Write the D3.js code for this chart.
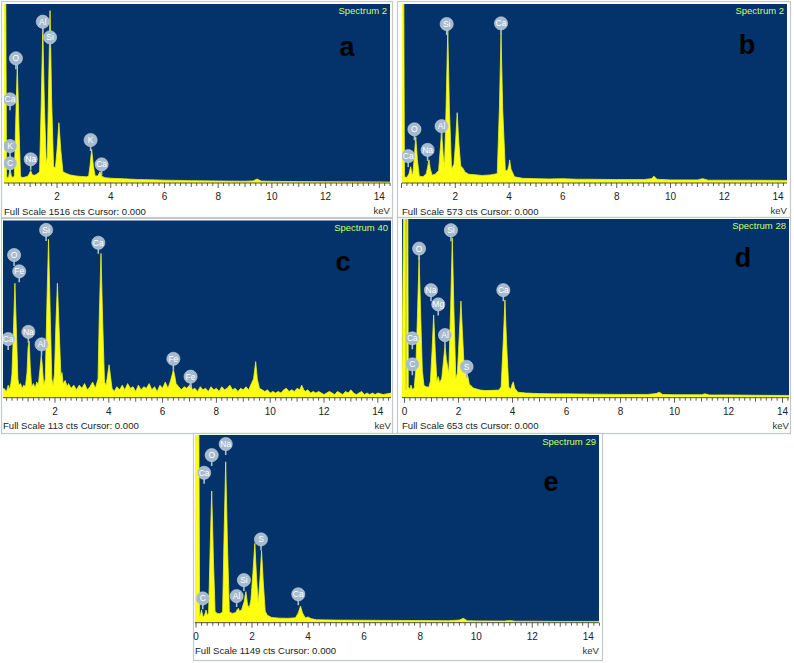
<!DOCTYPE html>
<html><head><meta charset="utf-8">
<script src="https://cdn.jsdelivr.net/npm/d3@7"></script>
<style>body{margin:0;background:#fff}svg{display:block;font-family:"Liberation Sans",Arial,sans-serif}</style>
</head><body><svg id="chart" width="794" height="663"></svg>
<script>
// ---------- DATA ----------
const panelLetters = ["a", "b", "c", "d", "e"];
const spectrumTitles = ["Spectrum 2", "Spectrum 2", "Spectrum 40", "Spectrum 28", "Spectrum 29"];
const fullScaleCounts = [1516, 573, 113, 653, 1149];
const keVTickLabels = [0, 2, 4, 6, 8, 10, 12, 14];

// spectra: [energy keV, counts]
const spectrumA = [[0,1700],[0.09,1700],[0.12,60],[0.16,40],[0.2,50],[0.25,125],[0.3,60],[0.36,45],[0.41,60],[0.46,500],[0.52,1000],[0.58,500],[0.64,60],[0.7,45],[0.8,50],[0.9,55],[0.96,75],[1.02,104],[1.08,70],[1.15,65],[1.25,75],[1.35,95],[1.41,650],[1.47,1310],[1.53,650],[1.6,170],[1.64,220],[1.68,720],[1.74,1460],[1.8,700],[1.87,140],[1.94,130],[2.0,280],[2.07,510],[2.14,280],[2.22,95],[2.35,80],[2.5,68],[2.7,60],[2.9,55],[3.1,52],[3.18,60],[3.23,150],[3.29,285],[3.35,150],[3.42,60],[3.52,60],[3.6,96],[3.67,55],[3.8,45],[4.0,40],[4.5,35],[5,30],[5.5,27],[6,24],[7,20],[8,17],[9,15],[9.3,18],[9.45,34],[9.6,16],[10,14],[11,12],[12,11],[13,10],[14.5,8]];
const spectrumB = [[0,700],[0.08,700],[0.11,20],[0.2,18],[0.28,30],[0.34,52],[0.4,25],[0.42,30],[0.47,75],[0.53,148],[0.59,75],[0.66,22],[0.8,20],[0.92,30],[0.97,50],[1.02,74],[1.07,45],[1.14,25],[1.25,28],[1.38,40],[1.43,95],[1.49,164],[1.55,90],[1.6,55],[1.66,250],[1.72,490],[1.78,240],[1.86,45],[1.95,60],[2.01,130],[2.07,225],[2.13,130],[2.2,55],[2.3,45],[2.36,35],[2.5,28],[2.8,26],[3.0,24],[3.3,26],[3.56,30],[3.64,240],[3.7,480],[3.76,240],[3.86,40],[3.94,40],[3.99,55],[4.02,74],[4.07,45],[4.2,20],[4.5,15],[5,14],[5.5,13],[6,14],[6.5,12],[7,12],[8,11],[9,11],[9.3,14],[9.38,22],[9.5,12],[10,10],[11,10],[11.2,14],[11.4,9],[12,9],[13,9],[14.5,8]];
const spectrumC = [[-0.1,3],[0.1,6],[0.2,4],[0.26,8],[0.3,5],[0.36,9],[0.4,15],[0.45,40],[0.51,73],[0.57,40],[0.62,12],[0.66,8],[0.72,9],[0.78,6],[0.84,8],[0.9,7],[0.96,16],[1.0,32],[1.04,36],[1.08,20],[1.13,7],[1.2,9],[1.26,6],[1.32,10],[1.38,8],[1.44,18],[1.49,27],[1.53,20],[1.58,8],[1.64,12],[1.7,60],[1.76,101],[1.82,55],[1.88,12],[1.93,8],[1.98,15],[2.03,45],[2.09,73],[2.15,45],[2.22,14],[2.26,16],[2.3,9],[2.38,11],[2.45,7],[2.5,9],[2.6,6],[2.7,8],[2.8,5],[2.9,8],[3.0,6],[3.1,9],[3.2,5],[3.3,7],[3.4,10],[3.5,6],[3.6,12],[3.65,55],[3.71,92],[3.77,50],[3.84,10],[3.9,8],[3.96,15],[4.01,21],[4.06,14],[4.12,6],[4.2,4],[4.3,7],[4.4,5],[4.5,8],[4.6,5],[4.7,9],[4.8,6],[4.9,7],[5.0,4],[5.1,8],[5.2,5],[5.3,7],[5.4,6],[5.5,9],[5.6,5],[5.7,7],[5.8,4],[5.9,8],[6.0,6],[6.1,10],[6.2,6],[6.3,11],[6.36,15],[6.4,18],[6.45,14],[6.5,9],[6.6,7],[6.7,5],[6.8,7],[6.9,6],[7.0,8],[7.05,9],[7.1,5],[7.2,6],[7.3,4],[7.4,7],[7.5,5],[7.6,6],[7.7,4],[7.8,7],[7.9,5],[8.0,6],[8.1,4],[8.2,7],[8.3,5],[8.4,6],[8.5,8],[8.6,5],[8.7,6],[8.8,4],[8.9,6],[9.0,5],[9.1,7],[9.2,5],[9.3,9],[9.38,12],[9.46,23],[9.52,12],[9.6,6],[9.7,5],[9.8,4],[9.9,5],[10.0,3],[10.1,4],[10.2,3],[10.3,4],[10.4,3],[10.5,5],[10.6,6],[10.7,4],[10.8,5],[10.9,4],[11.0,6],[11.1,5],[11.17,8],[11.25,5],[11.3,4],[11.4,5],[11.5,3],[11.6,4],[11.7,3],[11.8,4],[11.9,3],[12.0,2],[12.1,3],[12.2,4],[12.3,3],[12.4,2],[12.5,4],[12.6,3],[12.7,2],[12.8,4],[12.9,3],[13.0,5],[13.1,3],[13.2,2],[13.3,3],[13.4,4],[13.5,2],[13.6,3],[13.7,2],[13.8,3],[13.9,2],[14.0,3],[14.2,2],[14.5,3]];
const spectrumD = [[-0.1,30],[-0.02,800],[0.03,800],[0.05,30],[0.07,30],[0.08,800],[0.12,800],[0.14,40],[0.19,30],[0.24,46],[0.29,30],[0.36,35],[0.42,110],[0.48,300],[0.54,515],[0.6,300],[0.66,100],[0.72,45],[0.8,40],[0.9,38],[0.96,60],[1.02,170],[1.08,302],[1.14,170],[1.2,60],[1.25,77],[1.3,55],[1.38,70],[1.45,140],[1.5,192],[1.55,140],[1.64,90],[1.71,330],[1.77,584],[1.83,320],[1.9,70],[1.96,90],[2.03,230],[2.09,353],[2.15,230],[2.21,110],[2.28,95],[2.34,80],[2.4,50],[2.55,35],[2.8,28],[3.0,26],[3.3,27],[3.5,28],[3.58,40],[3.66,210],[3.72,357],[3.78,200],[3.86,40],[3.93,30],[3.99,50],[4.03,58],[4.08,35],[4.2,20],[4.5,17],[5,15],[5.5,14],[6,14],[7,13],[8,12],[9,12],[9.32,15],[9.44,20],[9.56,12],[10,11],[11,11],[11.13,14],[11.3,10],[12,10],[13,9],[14.5,8]];
const spectrumE = [[-0.05,1300],[0.1,1300],[0.13,40],[0.16,50],[0.2,78],[0.24,40],[0.28,37],[0.32,55],[0.36,78],[0.4,45],[0.45,60],[0.5,420],[0.56,806],[0.62,400],[0.68,70],[0.75,57],[0.85,55],[0.95,65],[1.0,520],[1.06,985],[1.12,500],[1.19,65],[1.3,57],[1.42,62],[1.47,80],[1.51,88],[1.56,70],[1.63,80],[1.72,130],[1.78,190],[1.84,110],[1.9,90],[1.96,140],[2.03,300],[2.1,486],[2.16,280],[2.22,120],[2.28,260],[2.34,441],[2.4,250],[2.47,70],[2.55,45],[2.7,32],[3.0,28],[3.3,27],[3.55,30],[3.65,60],[3.73,102],[3.8,60],[3.9,30],[4.0,35],[4.1,25],[4.3,18],[5,16],[6,15],[7,14],[8,13],[9,12],[9.4,16],[9.54,27],[9.68,12],[10,11],[11,10],[11.2,13],[11.4,9],[12,9],[13,8],[14.5,8]];

// element labels: [element, energy keV, counts level of marker]
const labelsA = [["Al",1.47,1366],["Si",1.74,1234],["O",0.47,1056],["Ca",0.25,709],["K",0.25,313],["C",0.25,167],["Na",1.02,201],["K",3.25,364],["Ca",3.66,158]];
const labelsB = [["Si",1.68,509],["Ca",3.70,511],["O",0.48,172],["Al",1.49,182],["Na",0.97,106],["Ca",0.25,86]];
const labelsC = [["Si",1.67,107],["Ca",3.61,98.8],["O",0.48,91],["Fe",0.67,80.6],["Na",1.01,42],["Ca",0.26,37.4],["Al",1.5,34],["Fe",6.4,24.8],["Fe",7.04,13.4]];
const labelsD = [["Si",1.72,612],["O",0.54,545],["Na",0.98,393],["Mg",1.25,341],["Ca",3.66,393],["Ca",0.29,217],["Al",1.5,229],["C",0.29,122],["S",2.3,113]];
const labelsE = [["Na",1.06,1094],["O",0.56,1026],["Ca",0.29,918],["S",2.32,510],["Si",1.71,261],["Al",1.45,163],["C",0.24,149],["Ca",3.65,174]];

const spectra = [spectrumA, spectrumB, spectrumC, spectrumD, spectrumE];
const labelSets = [labelsA, labelsB, labelsC, labelsD, labelsE];

// ---------- LAYOUT ----------
const layout = [
  {frame:[1.5,1.5,391,216], left:4, right:390, top:4, bottom:183, x0:3.3, k:26.86, zero:false, letter:[-43,43]},
  {frame:[397.5,1.5,393,216], left:402, right:787, top:4, bottom:183, x0:401.5, k:26.9, zero:false, letter:[-40,41]},
  {frame:[1.5,218.5,391,215], left:3, right:391, top:220.5, bottom:397.7, x0:1.2, k:26.9, zero:false, letter:[-48,41]},
  {frame:[397.5,217.5,393,216], left:402, right:789, top:219, bottom:397.7, x0:404.5, k:27.0, zero:true, letter:[-46,39]},
  {frame:[193.5,433.5,409,227], left:195, right:599, top:435, bottom:622.7, x0:196, k:28.02, zero:true, letter:[-48,47]}
];

const svg = d3.select("#chart");
const BLUE = "#03336a", YELLOW = "#ffff10";

layout.forEach((L, i) => {
  const g = svg.append("g");
  g.append("rect").attr("x", L.frame[0]).attr("y", L.frame[1]).attr("width", L.frame[2]).attr("height", L.frame[3])
    .attr("fill", "#fff").attr("stroke", "#c4c8cc").attr("stroke-width", 1.2);
  g.append("rect").attr("x", L.left).attr("y", L.top).attr("width", L.right - L.left).attr("height", L.bottom - L.top)
    .attr("fill", BLUE);
  const clipId = "clip" + i;
  svg.append("clipPath").attr("id", clipId).append("rect")
    .attr("x", L.left).attr("y", L.top).attr("width", L.right - L.left).attr("height", L.bottom - L.top);

  const x = d3.scaleLinear().domain([0, 14]).range([L.x0, L.x0 + 14 * L.k]);
  const y = d3.scaleLinear().domain([0, fullScaleCounts[i]]).range([L.bottom, L.top]);

  const area = d3.area().x(d => x(d[0])).y0(L.bottom).y1(d => y(d[1])).curve(d3.curveLinear);
  g.append("path").datum(spectra[i]).attr("d", area).attr("fill", YELLOW)
    .attr("stroke", "#eef020").attr("stroke-width", 0.8).attr("clip-path", `url(#${clipId})`);

  // axis
  const axG = g.append("g").attr("transform", `translate(0,${L.bottom})`);
  axG.append("line").attr("x1", L.left).attr("x2", L.right).attr("stroke", "#555").attr("stroke-width", 1);
  const minor = d3.range(0, 14.41, 0.2).filter(v => x(v) >= L.left - 0.5 && x(v) <= L.right + 0.5);
  axG.selectAll("line.t").data(minor).join("line").attr("class", "t")
    .attr("x1", d => x(d)).attr("x2", d => x(d)).attr("y1", 0)
    .attr("y2", d => (Math.abs(d - Math.round(d)) < 1e-6 ? (Math.round(d) % 2 === 0 ? 5 : 4) : 3))
    .attr("stroke", "#333").attr("stroke-width", 0.8);
  const labs = keVTickLabels.filter(v => v > 0 || L.zero);
  axG.selectAll("text.tl").data(labs).join("text").attr("class", "tl")
    .attr("x", d => x(d)).attr("y", 17).attr("text-anchor", "middle")
    .attr("font-size", 10).attr("fill", "#222").text(d => d);
  g.append("text").attr("x", L.left).attr("y", L.bottom + 31.5).attr("font-size", 9.6).attr("fill", "#222")
    .text(`Full Scale ${fullScaleCounts[i]} cts Cursor: 0.000`);
  g.append("text").attr("x", L.right).attr("y", L.bottom + 31).attr("text-anchor", "end")
    .attr("font-size", 9.6).attr("fill", "#333").text("keV");

  // title and letter
  g.append("text").attr("x", L.right - 3).attr("y", L.top + 10).attr("text-anchor", "end")
    .attr("font-size", 9.5).attr("fill", "#ccff66").text(spectrumTitles[i]);
  g.append("text").attr("x", L.right + L.letter[0]).attr("y", L.top + L.letter[1]).attr("text-anchor", "middle")
    .attr("dominant-baseline", "central").attr("font-size", 27).attr("font-weight", "bold").attr("fill", "#000")
    .text(panelLetters[i]);

  // element markers
  const mk = g.append("g").attr("clip-path", `url(#${clipId})`);
  const m = mk.selectAll("g.m").data(labelSets[i]).join("g").attr("class", "m")
    .attr("transform", d => `translate(${x(d[1])},${y(d[2])})`);
  m.append("line").attr("x1", 0).attr("x2", 0).attr("y1", 0).attr("y2", 11)
    .attr("stroke", "#a9bdd0").attr("stroke-width", 1.6);
  m.append("circle").attr("r", 6.6).attr("fill", "#a6bacd").attr("stroke", "#c4d2de").attr("stroke-width", 0.6);
  m.append("text").attr("text-anchor", "middle").attr("dominant-baseline", "central")
    .attr("font-size", 8.5).attr("fill", "#fff").text(d => d[0]);
});
</script></body></html>
